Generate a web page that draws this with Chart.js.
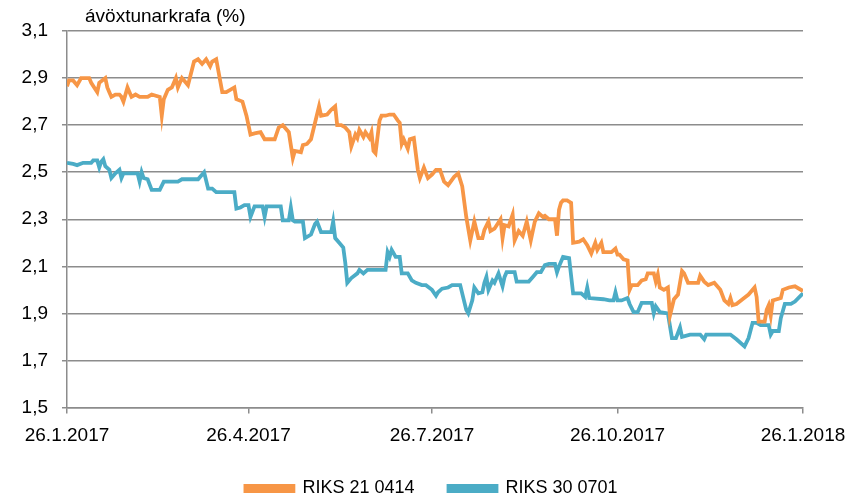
<!DOCTYPE html>
<html>
<head>
<meta charset="utf-8">
<script src="https://cdn.jsdelivr.net/npm/chart.js@4"></script>
<style>
html,body{margin:0;padding:0;background:#fff;}
#wrap{width:863px;height:500px;}
</style>
</head>
<body>
<div id="wrap"><canvas id="c" width="863" height="500"></canvas></div>
<script>
// x values: days since 26.1.2017
const tickDays = [0, 90, 181, 273, 365];
const tickLabels = ['26.1.2017', '26.4.2017', '26.7.2017', '26.10.2017', '26.1.2018'];
const seriesNames = ['RIKS 21 0414', 'RIKS 30 0701'];
const yTitle = 'ávöxtunarkrafa (%)';

const daysA = [
  0,1,3,5,7,11,12,15,16,19,
  20,21,22,24,26,27,28,30,31,32,
  34,36,40,42,46,47,48,50,52,54,
  55,57,59,60,63,65,67,69,71,72,
  74,77,79,83,84,87,89,91,93,96,
  98,103,105,107,108,110,112,113,116,117,
  119,121,123,125,126,129,131,133,134,136,
  138,140,141,143,144,145,147,148,150,151,
  152,153,155,156,158,160,162,164,165,166,
  167,169,170,172,174,175,177,179,181,183,
  185,187,189,192,194,196,198,200,202,204,
  206,207,209,210,212,215,216,217,219,221,
  222,224,226,228,230,232,234,236,237,239,
  242,243,244,245,246,248,250,251,254,256,
  258,260,262,263,265,266,270,272,273,274,
  276,278,279,280,283,285,287,288,291,292,
  293,294,296,298,299,301,303,305,306,308,
  313,314,316,318,321,324,326,328,329,330,
  332,335,338,341,342,343,346,347,348,349,
  350,354,355,358,361,365
];
const valsA = [
  2.865,2.89,2.89,2.87,2.90,2.90,2.88,2.84,2.88,2.90,
  2.86,2.84,2.82,2.83,2.83,2.82,2.80,2.86,2.84,2.82,
  2.83,2.82,2.82,2.83,2.82,2.74,2.81,2.85,2.86,2.90,
  2.86,2.90,2.88,2.87,2.97,2.98,2.96,2.98,2.95,2.97,
  2.98,2.84,2.84,2.86,2.81,2.80,2.74,2.66,2.665,2.67,
  2.64,2.64,2.69,2.70,2.69,2.67,2.56,2.59,2.585,2.615,
  2.62,2.64,2.71,2.78,2.74,2.745,2.765,2.78,2.70,2.70,
  2.69,2.67,2.61,2.66,2.645,2.68,2.65,2.67,2.645,2.67,
  2.59,2.58,2.72,2.74,2.74,2.745,2.745,2.72,2.71,2.62,
  2.64,2.60,2.64,2.645,2.51,2.475,2.52,2.475,2.49,2.51,
  2.51,2.46,2.445,2.48,2.495,2.44,2.31,2.21,2.29,2.22,
  2.22,2.255,2.29,2.25,2.26,2.30,2.22,2.275,2.27,2.32,
  2.21,2.25,2.23,2.29,2.21,2.29,2.325,2.31,2.315,2.30,
  2.30,2.23,2.34,2.37,2.38,2.38,2.37,2.20,2.205,2.215,
  2.19,2.155,2.20,2.17,2.20,2.16,2.16,2.175,2.15,2.15,
  2.13,2.125,2.00,2.02,2.02,2.04,2.045,2.07,2.07,2.035,
  2.065,2.01,2.00,2.01,1.89,1.96,1.98,2.08,2.07,2.03,
  2.03,2.06,2.035,2.02,2.03,2.00,1.955,1.94,1.965,1.935,
  1.94,1.96,1.98,2.01,1.97,1.865,1.865,1.915,1.935,1.89,
  1.955,1.965,2.00,2.01,2.015,1.995
];

const daysB = [
  0,3,5,8,12,13,15,16,17,18,
  19,21,22,24,26,27,28,35,36,37,
  38,40,42,46,48,55,57,65,68,70,
  72,74,83,84,86,88,90,91,93,97,
  98,99,106,107,110,111,112,113,117,118,
  121,123,124,126,131,132,133,135,137,138,
  139,141,144,145,147,149,158,159,160,161,
  163,165,166,169,171,173,176,178,181,183,
  184,186,189,191,195,197,198,199,201,202,
  204,206,207,208,209,211,212,214,216,217,
  218,220,222,223,229,231,233,235,237,239,
  242,243,244,246,249,251,255,257,258,259,
  266,269,271,272,273,275,278,279,281,283,
  285,290,291,292,294,298,300,302,304,305,
  309,314,316,317,329,332,336,338,340,342,
  344,348,349,350,353,354,356,359,361,365
];
const valsB = [
  2.54,2.535,2.53,2.54,2.54,2.55,2.55,2.52,2.545,2.555,
  2.525,2.51,2.475,2.495,2.51,2.475,2.495,2.495,2.46,2.50,
  2.475,2.47,2.425,2.425,2.46,2.46,2.47,2.47,2.50,2.43,
  2.43,2.415,2.415,2.345,2.35,2.36,2.36,2.31,2.355,2.355,
  2.31,2.355,2.355,2.295,2.295,2.35,2.295,2.29,2.29,2.22,
  2.235,2.28,2.29,2.245,2.245,2.29,2.22,2.20,2.18,2.115,
  2.03,2.05,2.07,2.085,2.07,2.085,2.085,2.16,2.14,2.17,
  2.14,2.14,2.07,2.07,2.04,2.03,2.02,2.02,2.00,1.975,
  1.99,2.005,2.01,2.02,2.02,1.95,1.915,1.90,1.955,2.01,
  1.985,1.99,2.03,2.055,2.00,2.04,2.03,2.07,2.015,2.055,
  2.075,2.075,2.075,2.035,2.035,2.055,2.075,2.075,2.105,2.11,
  2.11,2.075,2.10,2.14,2.135,1.985,1.985,1.97,2.01,1.965,
  1.96,1.955,1.955,1.99,1.955,1.955,1.965,1.94,1.905,1.905,
  1.945,1.945,1.90,1.93,1.905,1.90,1.795,1.795,1.84,1.80,
  1.81,1.81,1.79,1.81,1.81,1.79,1.76,1.795,1.86,1.86,
  1.85,1.85,1.81,1.825,1.825,1.88,1.94,1.94,1.95,1.985
];

function pairUp(days, vals) {
  const n = Math.min(days.length, vals.length);
  const out = [];
  for (let i = 0; i < n; i++) out.push({x: days[i], y: vals[i]});
  return out;
}

const FONT = "'Liberation Sans', Arimo, Arial, sans-serif";
const GRID = '#8c8c8c';
const ORANGE = '#F79646';
const TEAL = '#4BACC6';

const titlePlugin = {
  id: 'yTitleText',
  afterDraw(chart) {
    const ctx = chart.ctx;
    ctx.save();
    ctx.font = '19px ' + FONT;
    ctx.fillStyle = '#000';
    ctx.textAlign = 'left';
    ctx.textBaseline = 'alphabetic';
    ctx.fillText(yTitle, chart.chartArea.left + 18, 22);
    ctx.restore();
  }
};

const legendHeightPlugin = {
  id: 'legendHeight',
  beforeLayout(chart) {
    const lg = chart.legend;
    if (lg && !lg.__patched) {
      const f = lg.fit;
      lg.fit = function () { f.call(this); this.height = 54.5; };
      lg.__patched = true;
    }
  }
};

new Chart(document.getElementById('c'), {
  type: 'line',
  data: {
    datasets: [
      {label: seriesNames[0], data: pairUp(daysA, valsA), borderColor: ORANGE, backgroundColor: ORANGE,
       borderWidth: 3.8, pointRadius: 0, tension: 0, fill: false},
      {label: seriesNames[1], data: pairUp(daysB, valsB), borderColor: TEAL, backgroundColor: TEAL,
       borderWidth: 3.8, pointRadius: 0, tension: 0, fill: false}
    ]
  },
  options: {
    responsive: false,
    animation: false,
    devicePixelRatio: 1,
    layout: {padding: {top: 31, right: 0, left: 0, bottom: 0}},
    plugins: {
      legend: {
        position: 'bottom',
        labels: {
          boxWidth: 48, boxHeight: 5, padding: 34,
          font: {family: FONT, size: 18}, color: '#000'
        }
      },
      tooltip: {enabled: false},
      title: {display: false}
    },
    scales: {
      x: {
        type: 'linear', min: 0, max: 365,
        afterBuildTicks(scale) { scale.ticks = tickDays.map(v => ({value: v})); },
        afterFit(scale) { scale.height = 38; },
        ticks: {
          autoSkip: false, maxRotation: 0, padding: 11,
          font: {family: FONT, size: 19}, color: '#000',
          callback(value) { const i = tickDays.indexOf(value); return i >= 0 ? tickLabels[i] : ''; }
        },
        grid: {drawOnChartArea: false, drawTicks: true, tickLength: 6, color: GRID, lineWidth: 1.5},
        border: {display: true, color: GRID, width: 1.5}
      },
      y: {
        min: 1.5, max: 3.1,
        afterFit(scale) { scale.width = 67; },
        ticks: {
          stepSize: 0.2, padding: 14,
          font: {family: FONT, size: 19}, color: '#000',
          callback(value) { return value.toFixed(1).replace('.', ','); }
        },
        grid: {color: GRID, lineWidth: 1.5, tickLength: 5, drawTicks: true},
        border: {display: true, color: GRID, width: 1.5}
      },
      yRight: {
        position: 'right', display: true,
        afterFit(scale) { scale.width = 60; },
        ticks: {display: false},
        grid: {display: false},
        border: {display: false}
      }
    }
  },
  plugins: [titlePlugin, legendHeightPlugin]
});
</script>
</body>
</html>
